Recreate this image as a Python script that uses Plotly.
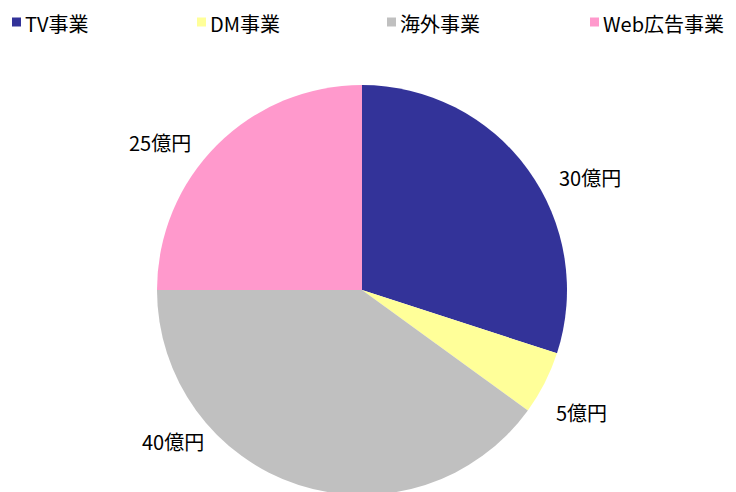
import plotly.graph_objects as go

categories = ["TV事業", "DM事業", "海外事業", "Web広告事業"]
values = [30, 5, 40, 25]
text_labels = ["30億円", "5億円", "40億円", "25億円"]
colors = ["#333399", "#FFFF99", "#C0C0C0", "#FF99CC"]

FONT = "Noto Sans CJK JP"
W, H = 736, 492
OFF = 8  # page offset of the figure inside the browser window

# layout-only positions (pixels in the window)
label_pos = [(590, 178), (581, 412), (173, 441), (160, 142)]
legend_x = [12, 197, 387, 590]
legend_y = 22
box = 9

# pie geometry (pixels in the window)
cx, cy, r = 362, 290, 205


def px_x(v):
    return (v - OFF) / W


def px_y(v):
    return 1 - (v - OFF) / H


fig = go.Figure(go.Pie(
    labels=categories,
    values=values,
    textinfo="none",
    sort=False,
    direction="clockwise",
    rotation=0,
    marker=dict(colors=colors, line=dict(width=0)),
    hoverinfo="label+value",
    showlegend=False,
    domain=dict(x=[px_x(cx - r), px_x(cx + r)],
                y=[px_y(cy + r), px_y(cy - r)]),
))

annotations = []
shapes = []
for txt, (px, py) in zip(text_labels, label_pos):
    annotations.append(dict(
        text=txt, x=px_x(px), y=px_y(py), xref="paper", yref="paper",
        xanchor="center", yanchor="middle", showarrow=False,
        font=dict(family=FONT, size=20, color="#000000"),
    ))

for name, col, lx in zip(categories, colors, legend_x):
    shapes.append(dict(
        type="rect", xref="paper", yref="paper",
        x0=px_x(lx), x1=px_x(lx + box),
        y0=px_y(legend_y - 4.5 + box), y1=px_y(legend_y - 4.5),
        fillcolor=col, line=dict(width=0),
    ))
    annotations.append(dict(
        text=name, x=px_x(lx + box + 2), y=px_y(legend_y + 1),
        xref="paper", yref="paper",
        xanchor="left", yanchor="middle", showarrow=False,
        font=dict(family=FONT, size=20, color="#000000"),
    ))

fig.update_layout(
    width=W, height=H,
    margin=dict(l=0, r=0, t=0, b=0),
    paper_bgcolor="white",
    plot_bgcolor="white",
    font=dict(family=FONT, size=20, color="#000000"),
    showlegend=False,
    annotations=annotations,
    shapes=shapes,
)

fig.write_html("out.html")
